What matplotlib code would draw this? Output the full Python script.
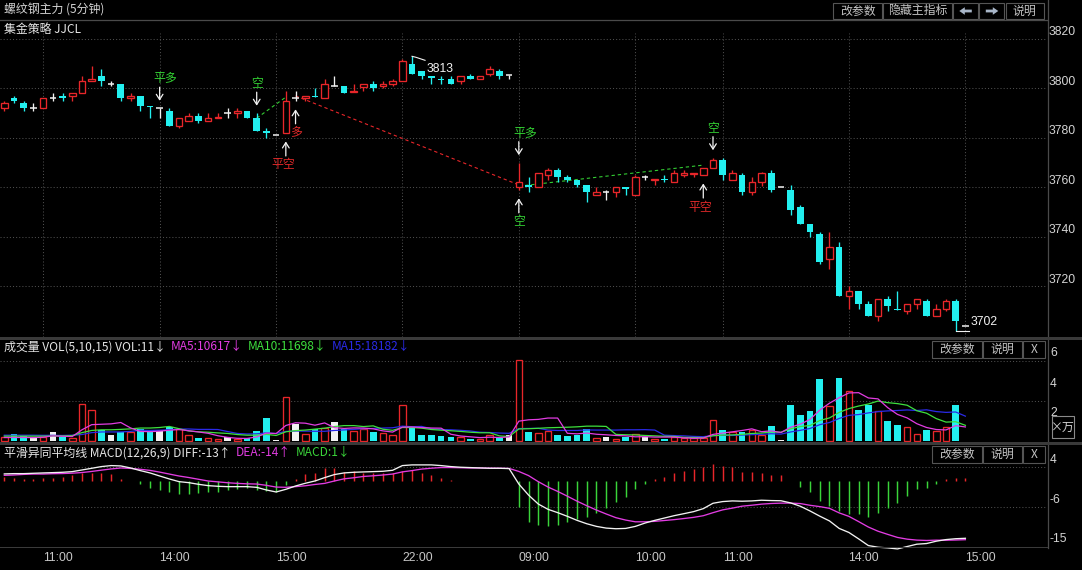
import matplotlib
matplotlib.use("Agg")
import matplotlib.pyplot as plt
import matplotlib.transforms as mtransforms
from matplotlib.patches import Rectangle, Polygon
from matplotlib.lines import Line2D

# ---------------- data ----------------
bar_open = [3792, 3796, 3794, 3792, 3792, 3796, 3797, 3797, 3798, 3803,
            3805, 3802, 3802, 3796, 3797, 3793, 3792, 3791, 3785, 3787,
            3789, 3787, 3788, 3790, 3790, 3791, 3788, 3783, 3781, 3782,
            3796, 3796, 3797, 3796, 3801, 3801, 3798.5, 3800.5, 3802, 3801,
            3802, 3803, 3810, 3807, 3805, 3804, 3804, 3803, 3805, 3804,
            3806, 3807, 3805.5, 3760, 3761, 3760, 3765, 3767, 3764, 3763,
            3761, 3757, 3758, 3758, 3760, 3757, 3764, 3763, 3763.5, 3762,
            3765, 3765.5, 3765, 3768, 3771, 3763, 3765, 3758, 3762, 3766,
            3760, 3759, 3752, 3745, 3741, 3731, 3736, 3716, 3718, 3713,
            3708, 3715, 3710.6, 3710, 3713, 3714, 3708, 3711, 3714, 3704]
bar_high = [3795, 3797, 3795, 3794, 3796, 3798, 3798, 3798, 3805, 3809,
            3808, 3803, 3802, 3798, 3797, 3793, 3792, 3792, 3788, 3790,
            3790, 3790, 3790, 3792, 3792, 3791, 3790, 3784, 3781, 3799,
            3799, 3797, 3800, 3804, 3805, 3801, 3802, 3802, 3803, 3803,
            3804, 3812, 3813, 3807, 3805, 3805, 3805, 3805, 3806, 3805,
            3809, 3808, 3805.5, 3770, 3764, 3766, 3768, 3768, 3765, 3763,
            3761, 3760, 3759, 3760, 3760, 3765, 3765, 3763.5, 3765, 3767,
            3767, 3766, 3768, 3772, 3772, 3767, 3766, 3764, 3766.4, 3767,
            3760, 3761, 3753, 3745, 3742, 3742, 3738, 3720, 3718, 3714,
            3715, 3716, 3718, 3713, 3715, 3715, 3713, 3715, 3715, 3704]
bar_low = [3791, 3794, 3791, 3791, 3792, 3795, 3795, 3795, 3798, 3803,
           3801, 3801, 3795, 3795, 3791, 3788, 3788, 3785, 3784, 3787,
           3786, 3787, 3788, 3788, 3788, 3788, 3783, 3780, 3781, 3782,
           3795, 3795, 3796.6, 3796, 3801, 3798, 3798.5, 3799, 3799, 3800,
           3801, 3803, 3806, 3804, 3802, 3802, 3802, 3802, 3804, 3804,
           3805, 3804, 3804, 3759, 3758, 3760, 3763, 3762, 3762, 3760,
           3754, 3757, 3755, 3756, 3757, 3757, 3763, 3761, 3762, 3762,
           3764, 3764, 3765, 3768, 3763, 3763, 3757, 3757, 3760.6, 3758,
           3760, 3749, 3745, 3740, 3729, 3727, 3716, 3711, 3711, 3708,
           3706, 3710, 3710.4, 3709, 3711, 3708, 3708, 3710, 3702, 3704]
bar_close = [3794, 3795, 3792, 3792, 3796, 3796, 3796, 3798, 3803, 3803.8,
             3803, 3802, 3796, 3797, 3793, 3792.6, 3792, 3785, 3788, 3789,
             3787, 3788, 3788.5, 3790, 3791, 3788, 3783, 3782, 3781, 3795,
             3796, 3797, 3796.6, 3802, 3801, 3798, 3799, 3802, 3800, 3802,
             3803, 3811, 3806, 3805, 3804.3, 3803.5, 3802, 3805, 3804, 3805,
             3808, 3805, 3805.5, 3762, 3760, 3766, 3767, 3764, 3763, 3761,
             3758, 3758, 3758, 3760, 3759.4, 3764, 3764, 3763.5, 3763, 3766,
             3766, 3766, 3768, 3771, 3765, 3766, 3758, 3762, 3766, 3759,
             3760, 3751, 3745, 3742, 3730, 3736, 3716, 3718, 3713, 3708,
             3715, 3712, 3710.4, 3713, 3715, 3708, 3711, 3714, 3706, 3704]

# volume in units of 10,000 (万)
volume_wan = [0.26, 0.55, 0.38, 0.24, 0.31, 0.67, 0.31, 0.20, 2.74, 2.29,
              0.83, 0.48, 0.67, 0.67, 0.90, 0.71, 0.71, 1.02, 0.90, 0.48,
              0.24, 0.19, 0.14, 0.31, 0.14, 0.19, 0.71, 1.68, 0.10, 3.24,
              1.23, 0.55, 0.90, 0.95, 1.43, 0.86, 0.74, 0.86, 0.67, 0.60,
              0.43, 2.67, 0.95, 0.43, 0.43, 0.36, 0.31, 0.31, 0.14, 0.14,
              0.48, 0.24, 0.48, 6.00, 0.67, 0.62, 0.71, 0.48, 0.38, 0.48,
              0.90, 0.24, 0.31, 0.14, 0.31, 0.55, 0.31, 0.14, 0.14, 0.31,
              0.24, 0.19, 0.20, 1.56, 0.81, 0.69, 0.69, 0.81, 0.44, 1.14,
              0.05, 2.67, 1.93, 2.22, 4.60, 2.59, 4.70, 3.70, 2.30, 2.67,
              2.22, 1.48, 1.19, 1.01, 0.52, 0.81, 0.74, 1.01, 2.64, 0.0011]
vol_ma5 = [0.26, 0.26, 0.26, 0.25, 0.28, 0.38, 0.35, 0.33, 0.83, 1.21,
           1.24, 1.27, 1.37, 0.97, 0.71, 0.69, 0.73, 0.80, 0.85, 0.76,
           0.67, 0.57, 0.39, 0.27, 0.20, 0.19, 0.30, 0.59, 0.55, 1.15,
           1.35, 1.32, 1.17, 1.34, 0.99, 0.93, 0.97, 0.96, 0.90, 0.75,
           0.66, 1.03, 1.04, 1.00, 0.96, 0.95, 0.50, 0.37, 0.31, 0.25,
           0.28, 0.26, 0.30, 1.47, 1.57, 1.60, 1.70, 1.70, 0.57, 0.53,
           0.59, 0.50, 0.46, 0.41, 0.38, 0.31, 0.32, 0.29, 0.29, 0.29,
           0.23, 0.20, 0.22, 0.49, 0.59, 0.68, 0.78, 0.90, 0.69, 0.75,
           0.63, 1.02, 1.25, 1.60, 2.29, 2.80, 3.21, 3.56, 3.58, 3.19,
           3.12, 2.47, 1.97, 1.71, 1.28, 1.00, 0.85, 0.82, 1.14, 1.04]
vol_ma10 = [0.36, 0.36, 0.36, 0.36, 0.36, 0.37, 0.37, 0.40, 0.62, 0.78,
            0.83, 0.83, 0.86, 0.90, 0.96, 0.96, 1.00, 1.08, 0.91, 0.74,
            0.68, 0.65, 0.60, 0.56, 0.48, 0.43, 0.43, 0.49, 0.41, 0.68,
            0.77, 0.81, 0.88, 0.95, 1.07, 1.14, 1.14, 1.07, 1.12, 0.87,
            0.79, 1.00, 1.00, 0.95, 0.85, 0.80, 0.76, 0.71, 0.65, 0.61,
            0.61, 0.38, 0.33, 0.89, 0.91, 0.94, 0.98, 1.00, 1.02, 1.05,
            1.10, 1.10, 1.08, 0.49, 0.46, 0.45, 0.41, 0.38, 0.35, 0.34,
            0.27, 0.26, 0.25, 0.39, 0.44, 0.45, 0.49, 0.56, 0.59, 0.67,
            0.65, 0.90, 1.07, 1.15, 1.52, 1.71, 2.12, 2.40, 2.59, 2.74,
            2.96, 2.84, 2.77, 2.65, 2.24, 2.06, 1.66, 1.40, 1.43, 1.16]
vol_ma15 = [0.43, 0.43, 0.43, 0.43, 0.42, 0.42, 0.41, 0.43, 0.48, 0.62,
            0.67, 0.67, 0.67, 0.71, 0.80, 0.78, 0.80, 0.84, 0.88, 0.89,
            0.86, 0.86, 0.85, 0.70, 0.56, 0.52, 0.53, 0.60, 0.56, 0.71,
            0.74, 0.73, 0.72, 0.72, 0.78, 0.82, 0.86, 0.91, 0.93, 0.96,
            0.98, 1.10, 1.06, 1.08, 0.90, 0.85, 0.83, 0.79, 0.74, 0.65,
            0.63, 0.59, 0.57, 0.92, 0.93, 0.94, 0.81, 0.78, 0.78, 0.78,
            0.82, 0.81, 0.81, 0.81, 0.83, 0.83, 0.84, 0.81, 0.43, 0.40,
            0.38, 0.34, 0.32, 0.40, 0.42, 0.41, 0.44, 0.47, 0.49, 0.54,
            0.51, 0.67, 0.79, 0.93, 1.21, 1.37, 1.67, 1.90, 1.96, 2.08,
            2.18, 2.23, 2.26, 2.30, 2.26, 2.31, 2.18, 2.12, 2.15, 1.84]

macd_diff = [1.63, 1.70, 1.70, 1.78, 1.86, 1.93, 2.01, 2.16, 2.54, 2.93,
             3.32, 3.55, 3.47, 3.01, 2.40, 1.86, 1.16, 0.47, -0.15, -0.38,
             -0.76, -1.07, -1.22, -1.30, -1.30, -1.30, -1.46, -2.07, -2.53, -1.92,
             -1.15, -0.53, 0.01, 0.78, 1.48, 1.86, 2.01, 2.09, 2.16, 2.24,
             2.47, 3.55, 3.71, 3.71, 3.71, 3.55, 3.32, 3.17, 3.09, 3.01,
             2.93, 2.93, 2.86, -0.70, -3.24, -5.30, -6.52, -7.29, -8.14, -9.07,
             -9.85, -10.46, -10.85, -11.00, -10.93, -10.46, -9.69, -9.07, -8.53, -7.99,
             -7.53, -7.06, -6.37, -5.13, -4.74, -4.59, -4.66, -4.59, -4.43, -4.51,
             -4.55, -5.05, -5.82, -6.91, -8.10, -9.20, -10.93, -11.86, -13.33, -14.87,
             -15.26, -15.41, -15.65, -15.10, -14.56, -14.41, -13.87, -13.50, -13.30, -13.20]
macd_dea = [1.30, 1.38, 1.52, 1.60, 1.60, 1.68, 1.72, 1.80, 1.95, 2.20,
            2.50, 2.78, 3.00, 2.90, 2.70, 2.45, 2.05, 1.60, 1.15, 0.80,
            0.40, 0.00, -0.20, -0.40, -0.55, -0.65, -0.70, -1.00, -1.40, -1.45,
            -1.30, -1.10, -0.80, -0.55, 0.00, 0.50, 0.75, 1.05, 1.20, 1.38,
            1.60, 2.10, 2.40, 2.75, 2.95, 3.10, 3.10, 3.05, 3.00, 3.00,
            2.97, 2.95, 2.90, 2.20, 1.25, -0.15, -1.38, -2.40, -3.50, -4.65,
            -5.70, -6.70, -7.60, -8.45, -9.00, -9.40, -9.40, -9.30, -9.10, -8.90,
            -8.65, -8.38, -8.00, -7.30, -6.65, -6.25, -5.80, -5.58, -5.33, -5.18,
            -5.10, -5.09, -5.20, -5.60, -5.90, -6.30, -7.35, -8.15, -9.35, -10.60,
            -11.57, -12.30, -13.00, -13.40, -13.62, -13.70, -13.63, -13.65, -13.60, -13.52]
macd_bar = [0.85, 0.77, 0.38, 0.38, 0.77, 0.62, 1.00, 1.38, 1.77, 1.92,
            1.77, 1.54, 0.38, 0.08, -0.77, -1.54, -2.08, -2.62, -3.08, -3.08,
            -2.85, -2.46, -2.46, -2.08, -1.92, -1.69, -2.08, -2.23, -2.46, -0.92,
            0.38, 1.62, 1.77, 2.92, 2.92, 2.15, 2.38, 1.77, 1.92, 1.77,
            1.92, 2.38, 2.54, 1.77, 1.38, 0.62, 0.23, 0.10, 0.08, -0.08,
            -0.08, -0.08, -0.10, -5.92, -9.38, -10.15, -10.38, -10.15, -9.38, -8.77,
            -8.23, -7.31, -6.31, -4.77, -3.62, -1.85, -0.77, 0.38, 1.00, 1.92,
            2.31, 2.69, 3.31, 3.92, 3.46, 3.31, 2.00, 2.00, 1.77, 1.38,
            1.38, 0.08, -1.31, -2.46, -4.62, -5.77, -6.92, -7.62, -7.62, -8.23,
            -7.31, -6.31, -5.15, -3.46, -1.92, -1.54, -0.69, 0.38, 0.62, 0.62]

price_ticks = [3820, 3800, 3780, 3760, 3740, 3720]
time_labels = ["11:00", "14:00", "15:00", "22:00", "09:00", "10:00", "11:00", "14:00", "15:00"]
time_label_bars = [4, 16, 28, 41, 53, 65, 74, 87, 99]
vol_tick_labels = ["6", "4", "2"]
macd_tick_labels = ["4", "-6", "-15"]

# strategy signals: (bar index, label, side of the bar)
signals = [(16, "平多", "above"), (26, "空", "above"), (29, "平空", "below"),
           (30, "多", "below"), (53, "平多", "above"), (53, "空", "below"),
           (72, "平空", "below"), (73, "空", "above")]
# closed trades: (entry bar, entry price, exit bar, exit price, direction)
trades = [(26, 3788, 29, 3796.5, "short"), (30, 3797, 53, 3761, "long"),
          (53, 3760.5, 72, 3769, "short")]

chart_title = "螺纹钢主力 (5分钟)"
strategy_title = "集金策略 JJCL"

# ---------------- colours ----------------
RED = "#e8262a"
CYAN = "#22f0f0"
WHITE = "#f2f2f2"
SIG_GREEN = "#33d233"
SIG_RED = "#e22a2a"
MAG = "#e23ce2"
MA10_C = "#3ee03e"
MA15_C = "#2a2ae8"
GRID = "#4e4e4e"
SEP = "#3a3a3a"
TXT = "#d4d4d4"
BTN_EDGE = "#555555"
BTN_TXT = "#c4c4c4"

# ---------------- figure & layout ----------------
W, H = 1082, 570
plt.rcParams["font.family"] = ["Noto Sans CJK SC", "DejaVu Sans"]
NUMFONT = ["Liberation Sans", "DejaVu Sans"]
fig = plt.figure(figsize=(W / 100, H / 100), dpi=100, facecolor="black")

X0, STEP, RIGHT = 4.3, 9.708, 1047          # px of first bar, px per bar, right edge of plots
PPU = 2.473                                 # main panel px per price unit (3820 grid at px 39)
VPU = 13.5                                  # volume px per 万 (baseline px 441)
MPU = 4.34                                  # macd px per unit (zero px 481)


def fx(x):
    return x / W


def fy(y):
    return 1 - y / H


def make_axes(top, bottom, ylim):
    ax = fig.add_axes([0, fy(bottom), RIGHT / W, (bottom - top) / H])
    ax.set_axis_off()
    ax.set_xlim(-X0 / STEP, (RIGHT - X0) / STEP)
    ax.set_ylim(*ylim)
    return ax


ax = make_axes(20, 337, (3820 - (337 - 39) / PPU, 3820 + (39 - 20) / PPU))
axv = make_axes(340, 442, (-(442 - 441) / VPU, (441 - 340) / VPU))
axm = make_axes(445, 550, ((481 - 550) / MPU, (481 - 445) / MPU))

# separators / frame lines
def fig_rect(x0, y0, x1, y1, color, fill=True, lw=0.0, z=3):
    r = Rectangle((fx(x0), fy(y1)), (x1 - x0) / W, (y1 - y0) / H, transform=fig.transFigure,
                  facecolor=color if fill else "black", edgecolor=color if not fill else "none",
                  linewidth=lw, zorder=z)
    fig.add_artist(r)
    return r

fig.add_artist(Line2D([0, fx(RIGHT)], [fy(19.5), fy(19.5)], transform=fig.transFigure, color="#4a4a4a", lw=0.9))
fig_rect(0, 337.3, W, 340, SEP)
fig_rect(0, 442, W, 444.8, SEP)
fig_rect(0, 546.8, RIGHT + 1, 548.3, SEP)
fig.add_artist(Line2D([fx(RIGHT + 0.5)] * 2, [fy(0), fy(548)], transform=fig.transFigure, color="#4a4a4a", lw=0.9))

# ---------------- main panel ----------------
gstyle = dict(color=GRID, lw=0.75, ls=(0, (1, 2)), zorder=0)
for p in price_ticks:
    ax.axhline(p, **gstyle)
for b in time_label_bars:
    ax.axvline(b, ymin=0, ymax=(337 - 33) / (337 - 20), **gstyle)

lab_tr = mtransforms.blended_transform_factory(fig.transFigure, ax.transData) + \
    mtransforms.ScaledTranslation(0, 6.7 / 100, fig.dpi_scale_trans)
for p in price_ticks:
    ax.text(fx(1049), p, str(p), transform=lab_tr, ha="left", va="center", color=TXT,
            fontsize=8.7, family=NUMFONT, clip_on=False)

# trade connectors (below candles)
for b0, p0, b1, p1, d in trades:
    ax.plot([b0, b1], [p0, p1], color=RED if d == "long" else "#33cc33", lw=0.8,
            dashes=(3, 2.6), zorder=1)

W_BODY = 0.68
MINB = 0.45
n = len(bar_open)
kinds = []
for i in range(n):
    o, h, l, c = bar_open[i], bar_high[i], bar_low[i], bar_close[i]
    if c > o:
        kinds.append("up")
        ax.vlines(i, c, h, color=RED, lw=0.95, zorder=2)
        ax.vlines(i, l, o, color=RED, lw=0.95, zorder=2)
        ax.bar(i, max(c - o, MINB), bottom=o, width=W_BODY, facecolor="black",
               edgecolor=RED, linewidth=0.95, zorder=3)
    elif c < o:
        kinds.append("down")
        ax.vlines(i, l, h, color=CYAN, lw=0.95, zorder=2)
        ax.bar(i, max(o - c, MINB), bottom=c, width=W_BODY, color=CYAN, linewidth=0, zorder=3)
    else:
        kinds.append("flat")
        ax.vlines(i, l, h, color=WHITE, lw=0.95, zorder=2)
        ax.hlines(o, i - W_BODY / 2, i + W_BODY / 2, color=WHITE, lw=1.1, zorder=3)

# signals
sig_color = {"平多": SIG_GREEN, "空": SIG_GREEN, "平空": SIG_RED, "多": SIG_RED}
sig_dx = {"平多": 6, "平空": -3, "空": 0, "多": 1}
for b, label, side in signals:
    if side == "above":
        base = bar_high[b]
        head, tail, ty = base + 7.5 / PPU, base + 21 / PPU, base + 29.5 / PPU
    else:
        base = bar_low[b]
        head, tail, ty = base - 8.5 / PPU, base - 23 / PPU, base - 32 / PPU
    ax.annotate("", xy=(b, head), xytext=(b, tail),
                arrowprops=dict(arrowstyle="->,head_length=0.38,head_width=0.24", color=WHITE,
                                lw=0.9, shrinkA=0, shrinkB=0, mutation_scale=10), zorder=4)
    ax.text(b + sig_dx[label] / STEP, ty, label, ha="center", va="center",
            color=sig_color[label], fontsize=8.6, zorder=4)

# extreme price markers
hb = max(range(n), key=lambda i: bar_high[i])
lb = min(range(n), key=lambda i: bar_low[i])
hp, lp = bar_high[hb], bar_low[lb]
ax.plot([hb, hb + 4 / STEP, hb + 13 / STEP], [hp, hp - 1 / PPU, hp - 4 / PPU], color=WHITE, lw=0.8, zorder=4)
ax.text(hb + 15 / STEP, hp - 12.6 / PPU, f"{hp:.0f}", ha="left", va="center", color=WHITE,
        fontsize=8.7, family=NUMFONT, zorder=4)
ax.plot([lb, lb + 13.6 / STEP], [lp, lp], color=WHITE, lw=0.8, zorder=4)
ax.text(lb + 15 / STEP, lp + 9 / PPU, f"{lp:.0f}", ha="left", va="center", color=WHITE,
        fontsize=8.7, family=NUMFONT, zorder=4)

# titles
fig.text(fx(4), fy(10), chart_title, ha="left", va="center", color=TXT, fontsize=8.6)
fig.text(fx(4), fy(29), strategy_title, ha="left", va="center", color="#e6e6e6", fontsize=8.6)


def button(x0, x1, y0, y1, text=None):
    fig_rect(x0, y0, x1, y1, BTN_EDGE, fill=False, lw=0.8, z=5)
    if text:
        fig.text(fx((x0 + x1) / 2), fy((y0 + y1) / 2), text, ha="center", va="center",
                 color=BTN_TXT, fontsize=8.6, zorder=6)


button(833.3, 882.3, 2.7, 19, "改参数")
button(883.3, 952.3, 2.7, 19, "隐藏主指标")
button(953.3, 978.3, 2.7, 19)
button(979.3, 1004.3, 2.7, 19)
button(1005.7, 1044, 2.7, 19, "说明")
ARROW_C = "#a8b6c8"
for cx, sgn in ((965.8, -1), (991.8, 1)):
    pts = [(cx + sgn * 6.5, 11), (cx + sgn * 1.0, 7.2), (cx + sgn * 1.0, 9.6), (cx - sgn * 6.0, 9.6),
           (cx - sgn * 6.0, 12.4), (cx + sgn * 1.0, 12.4), (cx + sgn * 1.0, 14.8)]
    fig.add_artist(Polygon([(fx(x), fy(y)) for x, y in pts], closed=True, transform=fig.transFigure,
                           facecolor=ARROW_C, edgecolor="none", zorder=6))

# ---------------- volume panel ----------------
for gpx in (360.7, 400.7):
    axv.axhline((441 - gpx) / VPU, **gstyle)
kind_fill = {"up": "black", "down": CYAN, "flat": WHITE}
kind_edge = {"up": RED, "down": CYAN, "flat": WHITE}
for i in range(n):
    k = kinds[i]
    axv.bar(i, volume_wan[i], width=W_BODY, facecolor=kind_fill[k], edgecolor=kind_edge[k],
            linewidth=0.95 if k == "up" else 0, zorder=2)
xs = list(range(n))
axv.plot(xs, vol_ma15, color=MA15_C, lw=0.9, zorder=3)
axv.plot(xs, vol_ma10, color=MA10_C, lw=0.9, zorder=3)
axv.plot(xs, vol_ma5, color=MAG, lw=0.9, zorder=3)

for txt, ypx in zip(vol_tick_labels, (353.3, 384, 413.3)):
    fig.text(fx(1050), fy(ypx), txt, ha="left", va="center", color=TXT, fontsize=8.7, family=NUMFONT)
fig_rect(1051.6, 416, 1074, 438, "#8a8a8a", fill=False, lw=0.8, z=5)
fig.text(fx(1062.8), fy(427), "×万", ha="center", va="center", color=TXT, fontsize=8.6, zorder=6)


def chain_title(parts, x, ypx):
    renderer = fig.canvas.get_renderer()
    for txt, col in parts:
        t = fig.text(fx(x), fy(ypx), txt, ha="left", va="center", color=col, fontsize=8.6, zorder=6)
        bb = t.get_window_extent(renderer)
        x = bb.x1 + 5


chain_title([("成交量 VOL(5,10,15) VOL:11↓", "#e6e6e6"), ("MA5:10617↓", MAG),
             ("MA10:11698↓", MA10_C), ("MA15:18182↓", MA15_C)], 4, 346.7)
button(932.3, 981.7, 341, 357.7, "改参数")
button(983, 1021.5, 341, 357.7, "说明")
button(1023, 1044.7, 341, 357.7, "X")

# ---------------- MACD panel ----------------
for gpx in (466.7, 506.7):
    axm.axhline((481 - gpx) / MPU, **gstyle)
for i in range(n):
    v = macd_bar[i]
    axm.vlines(i, 0, v, color=RED if v > 0 else "#3ad43a", lw=1.05, zorder=2)
axm.plot(xs, macd_dea, color=MAG, lw=0.95, zorder=3, clip_on=False)
axm.plot(xs, macd_diff, color=WHITE, lw=0.95, zorder=4, clip_on=False)

for txt, ypx in zip(macd_tick_labels, (460, 500, 539.3)):
    fig.text(fx(1050), fy(ypx), txt, ha="left", va="center", color=TXT, fontsize=8.7, family=NUMFONT)
chain_title([("平滑异同平均线 MACD(12,26,9) DIFF:-13↑", "#e6e6e6"), ("DEA:-14↑", MAG),
             ("MACD:1↓", "#3ad43a")], 4, 452.7)
button(932.3, 981.7, 446, 463.3, "改参数")
button(983, 1021.5, 446, 463.3, "说明")
button(1023, 1044.7, 446, 463.3, "X")

# time axis labels
tl_tr = mtransforms.blended_transform_factory(axm.transData, fig.transFigure) + \
    mtransforms.ScaledTranslation(15 / 100, 0, fig.dpi_scale_trans)
for b, txt in zip(time_label_bars, time_labels):
    axm.text(b, fy(558.3), txt, transform=tl_tr, ha="center", va="center", color="#c8c8c8",
             fontsize=8.7, family=NUMFONT, clip_on=False)

fig.savefig("out.png", dpi=100, facecolor="black")
